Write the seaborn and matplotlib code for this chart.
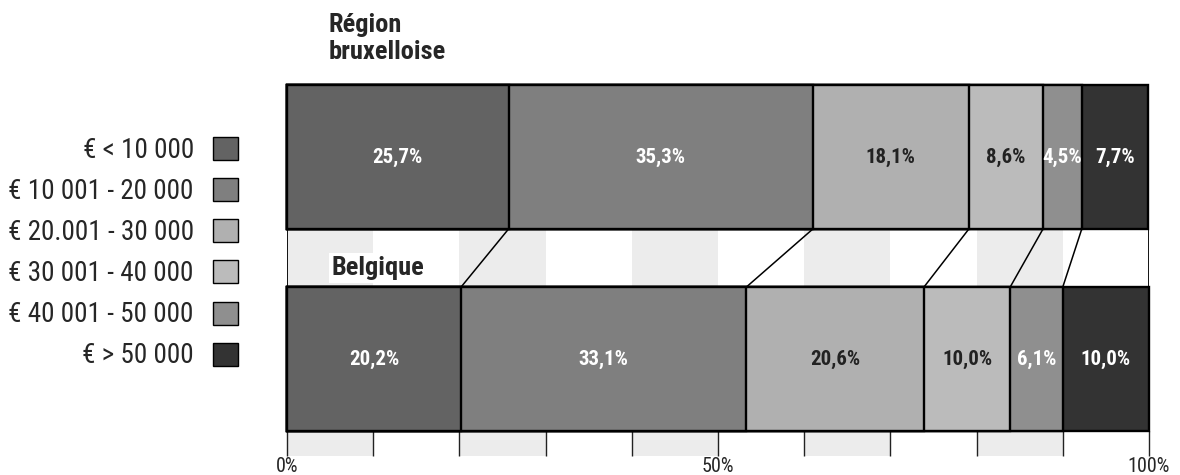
import numpy as np
import pandas as pd
import matplotlib
matplotlib.use("Agg")
import matplotlib.pyplot as plt
from matplotlib.patches import Patch
import seaborn as sns

regions = ["Région bruxelloise", "Belgique"]
brackets = ["€ < 10 000", "€ 10 001 - 20 000", "€ 20.001 - 30 000",
            "€ 30 001 - 40 000", "€ 40 001 - 50 000", "€ > 50 000"]
bruxelles = [25.7, 35.3, 18.1, 8.6, 4.5, 7.7]
belgique = [20.2, 33.1, 20.6, 10.0, 6.1, 10.0]
colors = ["#636363", "#7f7f7f", "#b0b0b0", "#bbbbbb", "#8f8f8f", "#333333"]
text_colors = ["white", "white", "#222222", "#222222", "white", "white"]

sns.set_style("white")
plt.rcParams['font.family'] = ['Roboto Condensed', 'IBM Plex Sans Condensed',
                               'Liberation Sans Narrow', 'Roboto', 'DejaVu Sans']

df = pd.DataFrame({"bruxelles": bruxelles, "belgique": belgique}, index=brackets)
cum = df.cumsum()

fig = plt.figure(figsize=(11.8, 4.75), dpi=100)
ax = fig.add_axes([287/1180, 19/475, 862/1180, 372/475])

bar_w = 0.713
half = bar_w / 2

# grey bands every other 10%
for x0 in range(0, 100, 20):
    ax.axvspan(x0, x0 + 10, color="#ececec", lw=0, zorder=0)

# stacked bars: draw cumulative totals from last bracket back to the first
for i in reversed(range(len(brackets))):
    sub = pd.DataFrame({"region": regions, "value": cum.iloc[i].values})
    sns.barplot(data=sub, x="value", y="region", orient="y", color=colors[i],
                saturation=1, width=bar_w, edgecolor="black", linewidth=1.7,
                errorbar=None, ax=ax, zorder=2, clip_on=False)

# value labels
for j, col in enumerate(df.columns):
    for i in range(len(brackets)):
        v = df[col].iloc[i]
        x = cum[col].iloc[i] - v / 2
        ax.text(x, j, f"{v:.1f}%".replace(".", ","), ha="center", va="center",
                color=text_colors[i], fontsize=15, fontweight="bold", zorder=5)

# connectors between the two bars
for i in range(len(brackets) - 1):
    ax.plot([cum["bruxelles"].iloc[i], cum["belgique"].iloc[i]], [half, 1 - half],
            color="black", lw=1.1, zorder=3)
ax.vlines([0, 100], half, 1 - half, color="black", lw=1.3, zorder=3)

ax.text(5.2, 0.55, "Belgique", fontsize=19, fontweight="bold", va="center", ha="left",
        bbox=dict(facecolor="white", edgecolor="none", pad=2), zorder=4)
fig.text(329/1180, 1 - 13/475, "Région\nbruxelloise", ha="left", va="top",
         fontsize=19, fontweight="bold", linespacing=1.15)

ticks = np.arange(0, 101, 10)
ax.set_xticks(ticks)
ax.set_xticklabels([f"{t}%" if t % 50 == 0 else "" for t in ticks])
ax.tick_params(axis="x", bottom=True, direction="in", length=18, width=1.0,
               color="#222222", pad=0.5, labelsize=14.5)
ax.tick_params(axis="y", left=False, labelleft=False)
ax.set_xlim(0, 100)
ax.set_ylim(1.4805, -0.3615)
ax.set_xlabel("")
ax.set_ylabel("")
sns.despine(ax=ax, left=True, bottom=True)

handles = [Patch(facecolor=c, edgecolor="black", linewidth=1.0) for c in colors]
fig.legend(handles, brackets, loc="upper right", bbox_to_anchor=(238/1180, 1 - 137/475),
           frameon=False, markerfirst=False, handlelength=0.93, handleheight=0.93,
           handletextpad=0.7, labelspacing=0.52, borderpad=0, borderaxespad=0,
           fontsize=19.5)

fig.savefig("out.png", dpi=100)
